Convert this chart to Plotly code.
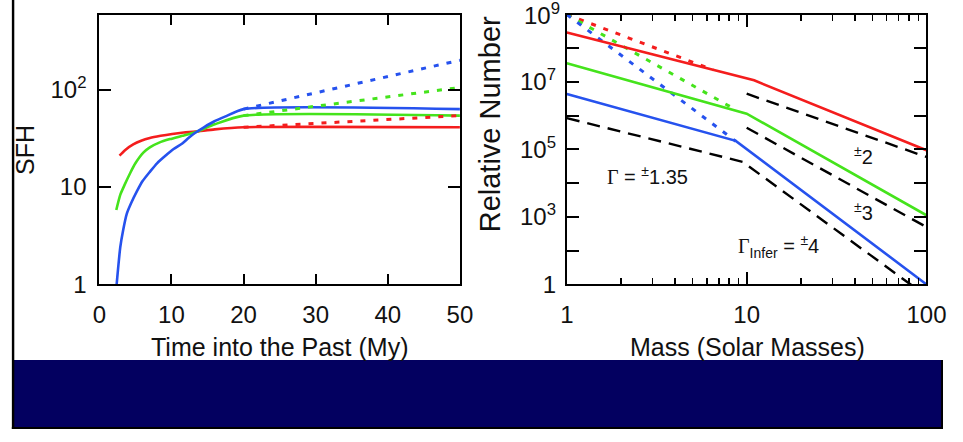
import plotly.graph_objects as go

# ---------------- data: left panel (SFH vs time) ----------------
blue_t = [2.4, 2.9, 3.3, 3.8, 4.4, 5.2, 6.0, 7.0, 8.0, 9.2, 10.3, 11.5, 12.4, 13.3, 14.5, 15.9, 17.5, 20, 50]
blue_sfh = [1.0, 2.4, 3.6, 5.3, 6.8, 9.0, 11.5, 14.3, 17.5, 21, 24.5, 28, 32, 36, 41, 47, 53, 63, 63]
green_t = [2.35, 2.9, 3.5, 4.3, 5.0, 6.1, 7.0, 8.3, 9.8, 11.5, 13.3, 16, 20, 50]
green_sfh = [5.8, 8.3, 10.5, 14, 17.5, 22.5, 25.5, 28.5, 31, 33.5, 36.5, 44, 54, 54]
red_t = [2.8, 3.6, 4.7, 5.8, 7.0, 8.5, 10.1, 11.7, 13.3, 16, 20, 50]
red_sfh = [21, 24, 27.3, 29.8, 31.8, 33.5, 35, 36.2, 37, 39, 41, 41]
blue_dot_t = [20, 50]
blue_dot_sfh = [63, 200]
green_dot_t = [20, 50]
green_dot_sfh = [54, 105]
red_dot_t = [20, 50]
red_dot_sfh = [41, 54]

# ---------------- data: right panel (IMF) ----------------
red_m = [1, 11, 100]
red_n = [2.95e8, 1.12e7, 9.5e4]
green_m = [1, 10, 100]
green_n = [3.6e7, 1.15e6, 1.12e3]
blue_m = [1, 8.7, 100]
blue_n = [4.4e6, 1.8e5, 10]
red_dot_m = [1, 6.5]
red_dot_n = [1e9, 2.3e7]
green_dot_m = [1, 8.7]
green_dot_n = [1e9, 1.5e6]
blue_dot_m = [1, 8.7]
blue_dot_n = [1e9, 1.75e5]
dash1_m = [1, 9.5, 100]
dash1_n = [8.5e5, 4.3e4, 4.5]
dash2_m = [10, 100]
dash2_n = [4.5e6, 6.0e4]
dash3_m = [10, 100]
dash3_n = [4.4e5, 5.0e2]

left_xticks = [0, 10, 20, 30, 40, 50]
left_yticks = [1, 10, 100]
left_ytext = ["1", "10", "10<sup>2</sup>"]
right_xticks = [1, 10, 100]
right_xtext = ["1", "10", "100"]
right_xminor = [2, 3, 4, 5, 6, 7, 8, 9, 20, 30, 40, 50, 60, 70, 80, 90]
right_yticks = [1e1, 1e2, 1e3, 1e4, 1e5, 1e6, 1e7, 1e8, 1e9]
right_ytext = ["1", "", "10<sup>3</sup>", "", "10<sup>5</sup>", "", "10<sup>7</sup>", "", ""]
top_label = "10<sup>9</sup>"

RED = "#f41d1d"
GREEN = "#45e31c"
BLUE = "#2652ee"
FONT = "Liberation Sans, Arial, Helvetica, sans-serif"

W, H = 963, 442


def px(x):
    return x / W


def py(y):
    return 1 - y / H


fig = go.Figure()

lw = 2.6
dot = "5px,8px"
dsh = "13px,8px"

for t, s, c in [(red_t, red_sfh, RED), (green_t, green_sfh, GREEN), (blue_t, blue_sfh, BLUE)]:
    fig.add_trace(go.Scatter(x=t, y=s, mode="lines", line=dict(color=c, width=lw, shape="spline", smoothing=0.6),
                             xaxis="x", yaxis="y", showlegend=False))
for t, s, c in [(red_dot_t, red_dot_sfh, RED), (green_dot_t, green_dot_sfh, GREEN),
                (blue_dot_t, blue_dot_sfh, BLUE)]:
    fig.add_trace(go.Scatter(x=t, y=s, mode="lines", line=dict(color=c, width=3, dash=dot),
                             xaxis="x", yaxis="y", showlegend=False))

for m, n in [(dash1_m, dash1_n), (dash2_m, dash2_n), (dash3_m, dash3_n)]:
    fig.add_trace(go.Scatter(x=m, y=n, mode="lines", line=dict(color="black", width=2.4, dash=dsh),
                             xaxis="x2", yaxis="y2", showlegend=False))
for m, n, c in [(red_dot_m, red_dot_n, RED), (green_dot_m, green_dot_n, GREEN),
                (blue_dot_m, blue_dot_n, BLUE)]:
    fig.add_trace(go.Scatter(x=m, y=n, mode="lines", line=dict(color=c, width=3, dash=dot),
                             xaxis="x2", yaxis="y2", showlegend=False))
for m, n, c in [(red_m, red_n, RED), (green_m, green_n, GREEN), (blue_m, blue_n, BLUE)]:
    fig.add_trace(go.Scatter(x=m, y=n, mode="lines", line=dict(color=c, width=lw),
                             xaxis="x2", yaxis="y2", showlegend=False))

axis_common = dict(showline=True, linecolor="black", linewidth=2, mirror="allticks",
                   ticks="inside", tickcolor="black", tickwidth=2, showgrid=False,
                   zeroline=False, fixedrange=True,
                   tickfont=dict(family=FONT, size=24, color="#111"))

fig.update_layout(
    width=W, height=H,
    margin=dict(l=0, r=0, t=0, b=0),
    paper_bgcolor="white", plot_bgcolor="white",
    dragmode=False,
    xaxis=dict(domain=[px(95), px(466)], range=[0, 50], tickvals=left_xticks,
               ticklen=10, ticklabelstandoff=8, anchor="y", **axis_common),
    yaxis=dict(domain=[py(293), py(15)], type="log", range=[0, 2.77],
               tickvals=left_yticks, ticktext=left_ytext, ticklen=12,
               ticklabelstandoff=6, anchor="x", **axis_common),
    xaxis2=dict(domain=[px(576), px(946)], type="log", range=[0, 2],
                tickvals=right_xticks, ticktext=right_xtext, ticklen=12,
                ticklabelstandoff=8, anchor="y2",
                minor=dict(tickvals=right_xminor, ticks="inside", ticklen=6,
                           tickcolor="black", tickwidth=1.5, showgrid=False),
                **axis_common),
    yaxis2=dict(domain=[py(293), py(15)], type="log", range=[1, 9],
                tickvals=right_yticks, ticktext=right_ytext, ticklen=12,
                ticklabelstandoff=4, anchor="x2", **axis_common),
)

annots = [
    dict(text="Time into the Past (My)", x=px(280), y=py(357), size=25, angle=0, xa="center"),
    dict(text="Mass (Solar Masses)", x=px(762), y=py(357), size=25, angle=0, xa="center"),
    dict(text="SFH", x=px(19), y=py(154), size=25, angle=-90, xa="center"),
    dict(text="Relative Number", x=px(497), y=py(128), size=29, angle=-90, xa="center"),
    dict(text=top_label, x=px(571), y=py(14), size=24, angle=0, xa="right"),
    dict(text="<span style='font-family:Liberation Serif, Times New Roman, serif'>Γ</span> = <sup>±</sup>1.35",
         x=px(659), y=py(181), size=20, angle=0, xa="center"),
    dict(text="<sup>±</sup>2", x=px(881), y=py(160), size=20, angle=0, xa="center"),
    dict(text="<sup>±</sup>3", x=px(881), y=py(218), size=20, angle=0, xa="center"),
    dict(text="<span style='font-family:Liberation Serif, Times New Roman, serif'>Γ</span><sub>Infer</sub> = <sup>±</sup>4",
         x=px(794), y=py(254), size=20, angle=0, xa="center"),
]
for a in annots:
    fig.add_annotation(text=a["text"], x=a["x"], y=a["y"], xref="paper", yref="paper",
                       xanchor=a["xa"], yanchor="middle", showarrow=False,
                       textangle=a["angle"], font=dict(family=FONT, size=a["size"], color="#111"))

fig.add_shape(type="rect", xref="paper", yref="paper", x0=px(7), x1=1, y0=py(440), y1=py(371),
              fillcolor="#030060", line=dict(width=0), layer="above")
fig.add_shape(type="rect", xref="paper", yref="paper", x0=px(5), x1=px(7.5), y0=0, y1=1,
              fillcolor="black", line=dict(width=0), layer="above")
fig.add_shape(type="rect", xref="paper", yref="paper", x0=px(5), x1=1, y0=0, y1=py(440),
              fillcolor="black", line=dict(width=0), layer="above")
fig.add_shape(type="rect", xref="paper", yref="paper", x0=px(961), x1=1, y0=py(440), y1=py(371),
              fillcolor="black", line=dict(width=0), layer="above")

fig.write_html("out.html", config={"staticPlot": True, "displayModeBar": False})
